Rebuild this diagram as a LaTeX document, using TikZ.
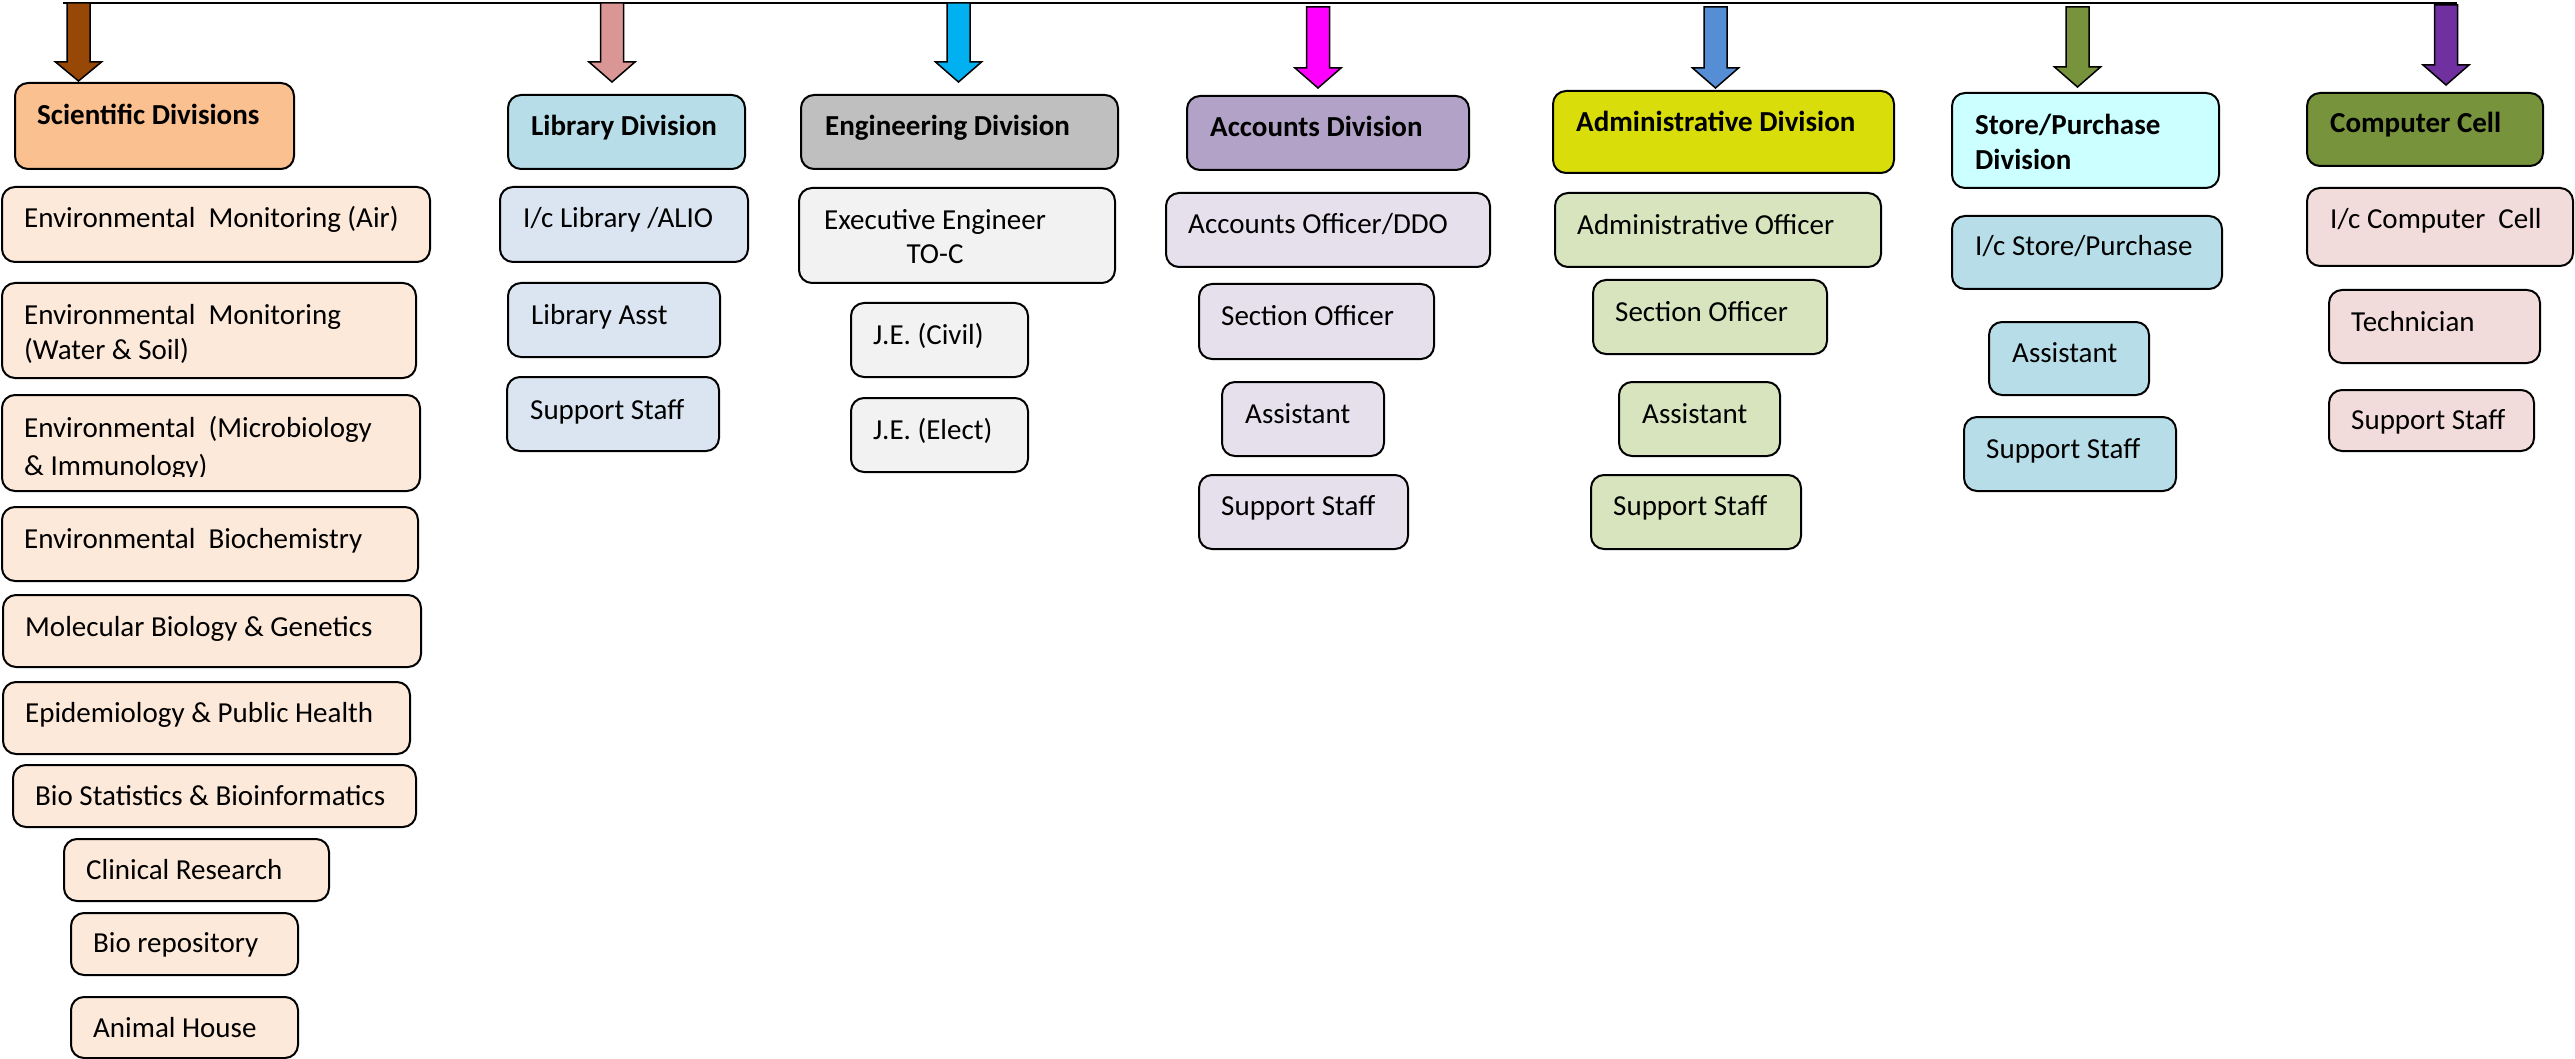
\documentclass[tikz,border=0pt]{standalone}
\usepackage{fontspec}
\setmainfont{Carlito}
\definecolor{sciH}{HTML}{FAC090}
\definecolor{sciS}{HTML}{FDE9D9}
\definecolor{sciA}{HTML}{974806}
\definecolor{libH}{HTML}{B7DEE8}
\definecolor{libS}{HTML}{DBE5F1}
\definecolor{libA}{HTML}{D99694}
\definecolor{engH}{HTML}{BFBFBF}
\definecolor{engS}{HTML}{F2F2F2}
\definecolor{engA}{HTML}{00B0F0}
\definecolor{accH}{HTML}{B2A2C7}
\definecolor{accS}{HTML}{E5E0EC}
\definecolor{accA}{HTML}{FF00FF}
\definecolor{admH}{HTML}{D9DD0A}
\definecolor{admS}{HTML}{D7E4BD}
\definecolor{admA}{HTML}{558ED5}
\definecolor{stoH}{HTML}{CCFFFF}
\definecolor{stoS}{HTML}{B7DEE8}
\definecolor{stoA}{HTML}{77933C}
\definecolor{comH}{HTML}{77933C}
\definecolor{comS}{HTML}{F2DCDB}
\definecolor{comA}{HTML}{7030A0}
\newcommand\ob[6]{\node[bx,fill=#2,anchor=north west,minimum width={#5-#3},minimum height={#6-#4}] (#1) at (#3,#4) {};}
\newcommand\blockarr[6]{% name, x centre, top, head start, tip, colour
  \coordinate (#1) at (#2,#3);
  \draw[arr,fill=#6] (#2-11.5,#3) -- (#2+11.5,#3) -- (#2+11.5,#4) -- (#2+23,#4) -- (#2,#5) -- (#2-23,#4) -- (#2-11.5,#4) -- cycle;}
\begin{document}
\begin{tikzpicture}[x=1pt,y=-1pt,
  bx/.style={draw=black,line width=2pt,rounded corners=13pt,inner sep=0pt},
  tx/.style={anchor=base west,inner sep=0pt,font=\fontsize{29}{35}\selectfont},
  hd/.style={anchor=base west,inner sep=0pt,font=\fontsize{29}{35}\selectfont\bfseries},
  arr/.style={draw=black,line width=1.5pt,line join=miter},
  topline/.style={draw=black,line width=2.2pt}]
\useasboundingbox (0,0) rectangle (2575,1059);

% top line
\coordinate (L) at (63,3);
\coordinate (R) at (2457,3);
\draw[topline] (L) -- (R);

% arrows
\blockarr{a1}{78.5}{3}{62}{81}{sciA}
\blockarr{a2}{612}{3}{62}{82}{libA}
\blockarr{a3}{958.5}{3}{62}{82}{engA}
\blockarr{a4}{1318}{7}{68}{88}{accA}
\blockarr{a5}{1715.5}{7}{68}{88}{admA}
\blockarr{a6}{2077.5}{7}{67}{87}{stoA}
\blockarr{a7}{2446}{5}{65}{85}{comA}

% Scientific
\ob{sci}{sciH}{14}{82}{293}{168}
\node[hd] (sci-t) at (37,125) {Scientific Divisions};
\ob{s1}{sciS}{1}{186}{429}{261}
\node[tx] (s1-t) at (24,228) {Environmental\ \ Monitoring (Air)};
\ob{s2}{sciS}{1}{282}{415}{377}
\node[tx] (s2-t) at (24,324) {\begin{tabular}[t]{@{}l@{}}Environmental\ \ Monitoring\\(Water \& Soil)\end{tabular}};
\ob{s3}{sciS}{1}{394}{419}{490}
\begin{scope}
\clip (0,394) rectangle (430,476.5);
\node[tx] (s3-t) at (24,437) {\begin{tabular}[t]{@{}l@{}}Environmental\ \ (Microbiology\\[3pt]\& Immunology)\end{tabular}};
\end{scope}
\ob{s4}{sciS}{1}{506}{417}{580}
\node[tx] (s4-t) at (24,548) {Environmental\ \ Biochemistry};
\ob{s5}{sciS}{2}{594}{420}{666}
\node[tx] (s5-t) at (25,636) {Molecular Biology \& Genetics};
\ob{s6}{sciS}{2}{681}{409}{753}
\node[tx] (s6-t) at (25,722) {Epidemiology \& Public Health};
\ob{s7}{sciS}{12}{764}{415}{826}
\node[tx] (s7-t) at (35,805) {Bio Statistics \& Bioinformatics};
\ob{s8}{sciS}{63}{838}{328}{900}
\node[tx] (s8-t) at (86,879) {Clinical Research};
\ob{s9}{sciS}{70}{912}{297}{974}
\node[tx] (s9-t) at (93,952) {Bio repository};
\ob{s10}{sciS}{70}{996}{297}{1057}
\node[tx] (s10-t) at (93,1037) {Animal House};

% Library
\ob{lib}{libH}{507}{94}{744}{168}
\node[hd] (lib-t) at (531,136) {Library Division};
\ob{l1}{libS}{499}{186}{747}{261}
\node[tx] (l1-t) at (523,228) {I/c Library /ALIO};
\ob{l2}{libS}{507}{282}{719}{356}
\node[tx] (l2-t) at (531,324) {Library Asst};
\ob{l3}{libS}{506}{376}{718}{450}
\node[tx] (l3-t) at (530,419) {Support Staff};

% Engineering
\ob{eng}{engH}{800}{94}{1117}{168}
\node[hd] (eng-t) at (825,136) {Engineering Division};
\ob{e1}{engS}{798}{187}{1114}{282}
\node[tx] (e1-t) at (824,230) {\begin{tabular}[t]{@{}c@{}}Executive Engineer\\[-1pt]TO-C\end{tabular}};
\ob{e2}{engS}{850}{302}{1027}{376}
\node[tx] (e2-t) at (873,344) {J.E. (Civil)};
\ob{e3}{engS}{850}{397}{1027}{471}
\node[tx] (e3-t) at (873,439) {J.E. (Elect)};

% Accounts
\ob{acc}{accH}{1186}{95}{1468}{169}
\node[hd] (acc-t) at (1210,137) {Accounts Division};
\ob{c1}{accS}{1165}{192}{1489}{266}
\node[tx] (c1-t) at (1188,234) {Accounts Officer/DDO};
\ob{c2}{accS}{1198}{283}{1433}{358}
\node[tx] (c2-t) at (1221,325) {Section Officer};
\ob{c3}{accS}{1221}{381}{1383}{455}
\node[tx] (c3-t) at (1245,423) {Assistant};
\ob{c4}{accS}{1198}{474}{1407}{548}
\node[tx] (c4-t) at (1221,515) {Support Staff};

% Administrative
\ob{adm}{admH}{1552}{90}{1893}{172}
\node[hd] (adm-t) at (1576,132) {Administrative Division};
\ob{d1}{admS}{1554}{192}{1880}{266}
\node[tx] (d1-t) at (1577,235) {Administrative Officer};
\ob{d2}{admS}{1592}{279}{1826}{353}
\node[tx] (d2-t) at (1615,322) {Section Officer};
\ob{d3}{admS}{1618}{381}{1779}{455}
\node[tx] (d3-t) at (1642,423) {Assistant};
\ob{d4}{admS}{1590}{474}{1800}{548}
\node[tx] (d4-t) at (1613,515) {Support Staff};

% Store/Purchase
\ob{sto}{stoH}{1951}{92}{2218}{187}
\node[hd] (sto-t) at (1975,135) {\begin{tabular}[t]{@{}l@{}}Store/Purchase\\Division\end{tabular}};
\ob{p1}{stoS}{1951}{215}{2221}{288}
\node[tx] (p1-t) at (1975,256) {I/c Store/Purchase};
\ob{p2}{stoS}{1988}{321}{2148}{394}
\node[tx] (p2-t) at (2012,362) {Assistant};
\ob{p3}{stoS}{1963}{416}{2175}{490}
\node[tx] (p3-t) at (1986,458) {Support Staff};

% Computer
\ob{com}{comH}{2306}{92}{2542}{165}
\node[hd] (com-t) at (2330,133) {Computer Cell};
\ob{m1}{comS}{2306}{187}{2572}{265}
\node[tx] (m1-t) at (2330,229) {I/c Computer\ \ Cell};
\ob{m2}{comS}{2328}{289}{2539}{362}
\node[tx] (m2-t) at (2351,331) {Technician};
\ob{m3}{comS}{2328}{389}{2533}{450}
\node[tx] (m3-t) at (2351,429) {Support Staff};
\end{tikzpicture}
\end{document}
